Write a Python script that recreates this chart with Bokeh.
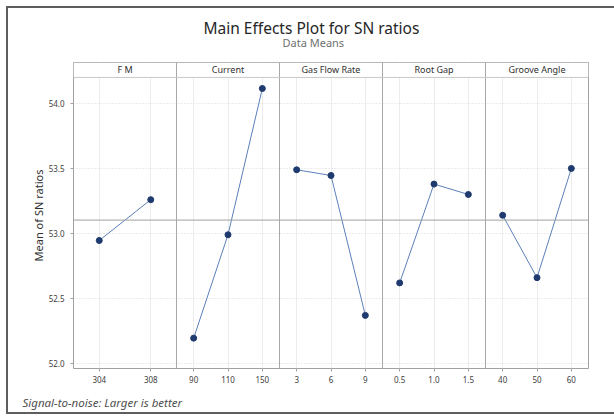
from bokeh.plotting import figure
from bokeh.models import FixedTicker, Span, BoxAnnotation, Range1d, ColumnDataSource, Title, NumeralTickFormatter
from bokeh.core.properties import value
from bokeh.embed import file_html
from bokeh.resources import INLINE

# ---- data ----
factors = ["F M", "Current", "Gas Flow Rate", "Root Gap", "Groove Angle"]
fm_levels = ["304", "308"]
fm_sn = [52.946, 53.26]
current_levels = ["90", "110", "150"]
current_sn = [52.195, 52.99, 54.115]
gas_levels = ["3", "6", "9"]
gas_sn = [53.49, 53.446, 52.37]
gap_levels = ["0.5", "1.0", "1.5"]
gap_sn = [52.62, 53.38, 53.30]
angle_levels = ["40", "50", "60"]
angle_sn = [53.14, 52.66, 53.50]
y_ticks = [52.0, 52.5, 53.0, 53.5, 54.0]

panels = [
    (fm_levels, fm_sn),
    (current_levels, current_sn),
    (gas_levels, gas_sn),
    (gap_levels, gap_sn),
    (angle_levels, angle_sn),
]

FONT = "Noto Sans"
STRIP_BOTTOM = 54.2
STRIP_MID = 54.262

p = figure(width=614, height=417, output_backend="svg", toolbar_location=None, title=None,
           x_range=Range1d(0, len(factors)), y_range=Range1d(51.9615, 54.315),
           min_border_left=73, min_border_right=26, min_border_top=62, min_border_bottom=49)
p.styles = {
    "background-color": "white",
    "box-shadow": ("inset 6px 0 0 0 #ffffff, inset 0 6px 0 0 #ffffff, inset 0 -3px 0 0 #ffffff, "
                   "inset 8px 0 0 0 #5e5e5e, inset 0 8px 0 0 #5e5e5e, inset 0 -5px 0 0 #5e5e5e"),
}
p.background_fill_color = "white"
p.border_fill_color = None
p.outline_line_color = "#a0a0a0"

# grids
p.xgrid.grid_line_color = "#ececec"
p.ygrid.grid_line_color = "#d8d8d8"
p.ygrid.grid_line_dash = "1 2"

# strip area cover (white) above grid lines
p.add_layout(BoxAnnotation(bottom=STRIP_BOTTOM, fill_color="white", fill_alpha=1.0,
                           line_color=None, level="underlay"))

tick_pos = []
overrides = {}
for i, (levels, vals) in enumerate(panels):
    n = len(levels)
    xs = [i + (j + 0.5) / n for j in range(n)]
    for x, lab in zip(xs, levels):
        tick_pos.append(x)
        overrides[x] = lab
    p.line(xs, vals, line_color="#5b80b8", line_width=1)
    p.scatter(xs, vals, size=6, fill_color="#1f3a6e", line_color="#1f3a6e")

p.xaxis.ticker = FixedTicker(ticks=tick_pos)
p.xaxis.major_label_overrides = overrides
p.yaxis.ticker = FixedTicker(ticks=y_ticks)
p.yaxis.formatter = NumeralTickFormatter(format="0.0")

for ax in (p.xaxis, p.yaxis):
    ax.axis_line_color = None
    ax.major_tick_line_color = "#a0a0a0"
    ax.major_tick_out = 3
    ax.major_tick_in = 0
    ax.minor_tick_line_color = None
    ax.major_label_text_font = FONT
    ax.major_label_text_font_size = "8px"
    ax.major_label_text_color = "#404040"
p.xaxis.major_label_standoff = 4
p.yaxis.major_label_standoff = 6
p.yaxis.axis_label = "Mean of SN ratios"
p.yaxis.axis_label_text_font = FONT
p.yaxis.axis_label_text_font_size = "11px"
p.yaxis.axis_label_text_font_style = "normal"
p.yaxis.axis_label_text_color = "#303030"
p.yaxis.axis_label_standoff = 0

# panel dividers, strip line, mean line
for i in range(1, len(factors)):
    p.add_layout(Span(location=i, dimension="height", line_color="#a8a8a8", line_width=1))
p.add_layout(Span(location=STRIP_BOTTOM, dimension="width", line_color="#c8c8c8", line_width=1))
mean_sn = sum(fm_sn) / len(fm_sn)
p.add_layout(Span(location=mean_sn, dimension="width", line_color="#a0a0a0", line_width=1))

# strip labels
src = ColumnDataSource(dict(x=[i + 0.5 for i in range(len(factors))],
                            y=[STRIP_MID] * len(factors), t=factors))
p.text(x="x", y="y", text="t", source=src, text_align="center", text_baseline="middle",
       text_font=value(FONT), text_font_size="9px", text_color="#303030")

# titles (subtitle first: nearest to the frame) and footnote
p.add_layout(Title(text="Data Means", align="left", offset=209, text_font=FONT,
                   text_font_size="11px", text_font_style="normal", text_color="#707070",
                   standoff=25), "above")
p.add_layout(Title(text="Main Effects Plot for SN ratios", align="left", offset=130,
                   text_font=FONT, text_font_size="15.5px", text_font_style="normal",
                   text_color="#262626", standoff=-36), "above")
p.add_layout(Title(text="Signal-to-noise: Larger is better", align="left", offset=-51,
                   text_font=FONT, text_font_size="11.5px", text_font_style="italic",
                   text_color="#505050", standoff=14), "below")

open("out.html", "w").write(file_html(p, INLINE))
